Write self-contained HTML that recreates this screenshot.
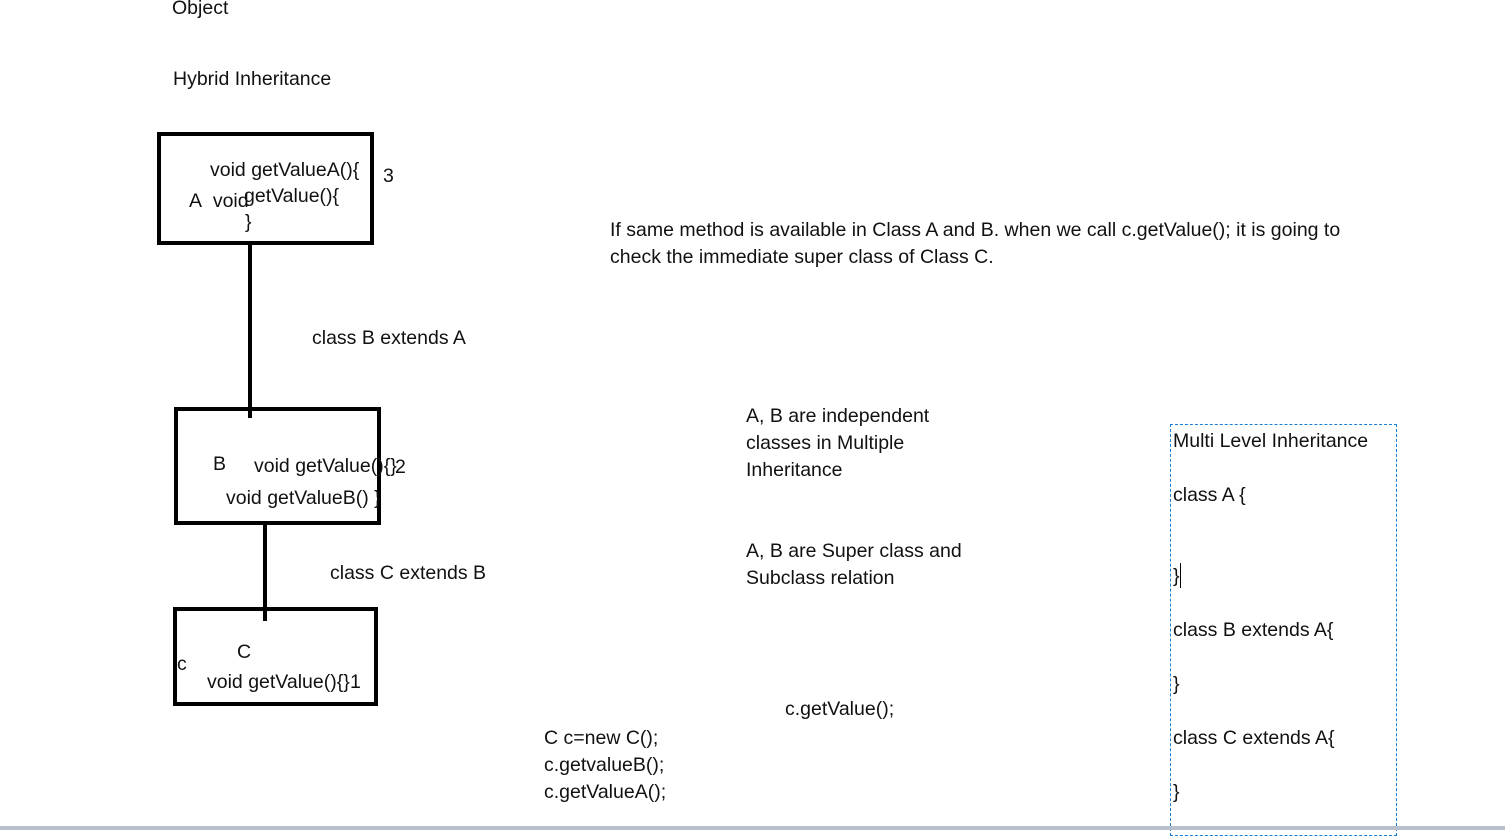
<!DOCTYPE html>
<html><head><meta charset="utf-8"><style>
body{margin:0;width:1505px;height:830px;background:#fff;position:relative;overflow:hidden;font-family:"Liberation Sans",sans-serif;font-size:19.5px;color:#111}
.t{position:absolute;white-space:nowrap;line-height:20px}
.box{position:absolute;border:4px solid #000;box-sizing:border-box}
.ln{position:absolute;background:#000;width:4px}
</style></head><body>
<div class="t" style="left:172px;top:-2px">Object</div>
<div class="t" style="left:173px;top:69px">Hybrid Inheritance</div>

<div class="box" style="left:157px;top:132px;width:217px;height:113px"></div>
<div class="t" style="left:210px;top:160px">void getValueA(){</div>
<div class="t" style="left:189px;top:191px">A&nbsp; void</div>
<div class="t" style="left:244px;top:186px">getValue(){</div>
<div class="t" style="left:245px;top:212px">}</div>
<div class="t" style="left:383px;top:166px">3</div>

<div class="ln" style="left:248px;top:243px;height:175px"></div>
<div class="t" style="left:312px;top:328px">class B extends A</div>

<div class="box" style="left:174px;top:407px;width:207px;height:118px"></div>
<div class="t" style="left:213px;top:454px">B</div>
<div class="t" style="left:254px;top:456px">void getValue(){}</div>
<div class="t" style="left:395px;top:457px">2</div>
<div class="t" style="left:226px;top:488px">void getValueB() }</div>

<div class="ln" style="left:263px;top:523px;height:98px"></div>
<div class="t" style="left:330px;top:563px">class C extends B</div>

<div class="box" style="left:173px;top:607px;width:205px;height:99px"></div>
<div class="t" style="left:237px;top:642px">C</div>
<div class="t" style="left:177px;top:654px">c</div>
<div class="t" style="left:207px;top:672px">void getValue(){}</div>
<div class="t" style="left:350px;top:672px">1</div>

<div class="t" style="left:610px;top:220px">If same method is available in Class A and B. when we call c.getValue(); it is going to</div>
<div class="t" style="left:610px;top:247px">check the immediate super class of Class C.</div>

<div class="t" style="left:746px;top:406px">A, B are independent</div>
<div class="t" style="left:746px;top:433px">classes in Multiple</div>
<div class="t" style="left:746px;top:460px">Inheritance</div>
<div class="t" style="left:746px;top:541px">A, B are Super class and</div>
<div class="t" style="left:746px;top:568px">Subclass relation</div>

<div class="t" style="left:785px;top:699px">c.getValue();</div>
<div class="t" style="left:544px;top:728px">C c=new C();</div>
<div class="t" style="left:544px;top:755px">c.getvalueB();</div>
<div class="t" style="left:544px;top:782px">c.getValueA();</div>

<div style="position:absolute;left:1170px;top:424px;width:225px;height:410px;border:1px dashed #1a7fd4"></div>
<div class="t" style="left:1173px;top:431px">Multi Level Inheritance</div>
<div class="t" style="left:1173px;top:485px">class A {</div>
<div class="t" style="left:1173px;top:566px">}</div>
<div style="position:absolute;left:1180px;top:563px;width:1px;height:25px;background:#000"></div>
<div class="t" style="left:1173px;top:620px">class B extends A{</div>
<div class="t" style="left:1173px;top:674px">}</div>
<div class="t" style="left:1173px;top:728px">class C extends A{</div>
<div class="t" style="left:1173px;top:782px">}</div>

<div style="position:absolute;left:0;top:826px;width:1505px;height:4px;background:#b8c0cc"></div>
</body></html>
